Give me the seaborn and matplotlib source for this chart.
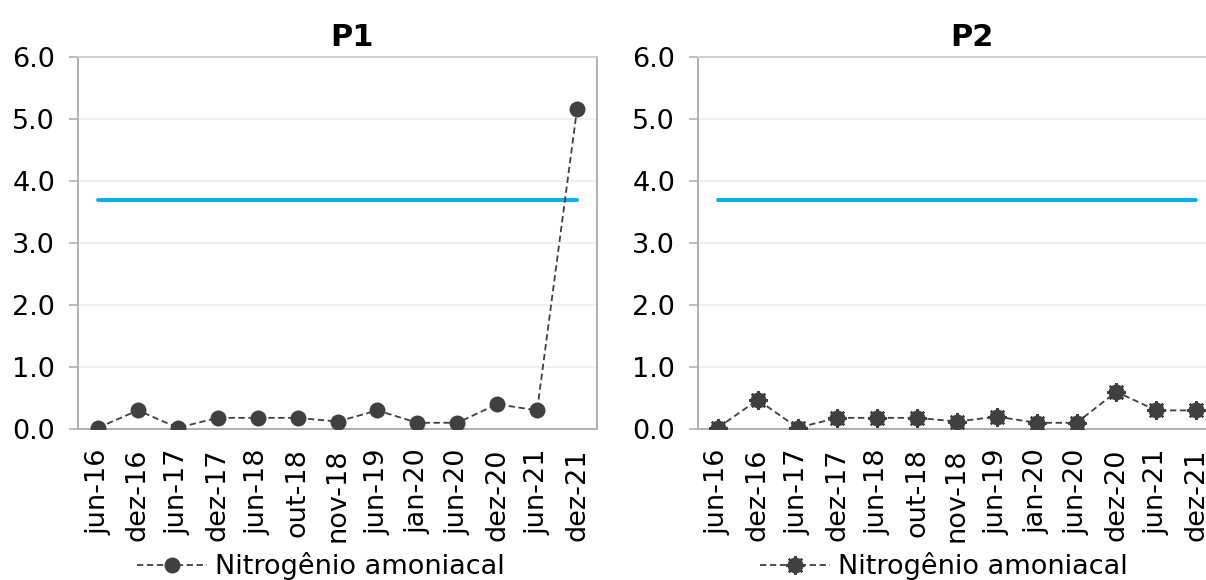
import matplotlib
matplotlib.use('Agg')
import matplotlib.pyplot as plt
import matplotlib.lines as mlines
import seaborn as sns
import numpy as np
import pandas as pd

# data
categories = ["jun-16", "dez-16", "jun-17", "dez-17", "jun-18", "out-18", "nov-18",
              "jun-19", "jan-20", "jun-20", "dez-20", "jun-21", "dez-21"]
p1_values = [0.02, 0.30, 0.02, 0.18, 0.18, 0.18, 0.12, 0.30, 0.10, 0.10, 0.40, 0.30, 5.16]
p2_values = [0.02, 0.47, 0.02, 0.18, 0.18, 0.18, 0.12, 0.20, 0.10, 0.10, 0.60, 0.30, 0.30]
limit_value = 3.7
y_ticks = [0.0, 1.0, 2.0, 3.0, 4.0, 5.0, 6.0]
series_name = "Nitrogênio amoniacal"

sns.set_theme(style="white")
plt.rcParams['font.family'] = ['DejaVu Sans']
plt.rcParams['text.color'] = 'black'
plt.rcParams['xtick.labelcolor'] = 'black'
plt.rcParams['ytick.labelcolor'] = 'black'

FONT = 19.5
DARK = "#404040"
BLUE = "#00B0F0"
SPINE = "#B0B0B0"
GRID = "#EDEDED"
W, H = 1206, 580

fig = plt.figure(figsize=(W / 100, H / 100), dpi=100)


def draw_panel(ax, values, title, legend_x, dashed_marker=False):
    n = len(categories)
    df = pd.DataFrame({"pos": np.arange(n), "valor": values, "limite": [limit_value] * n})

    sns.lineplot(data=df, x="pos", y="limite", color=BLUE, lw=2.8, ax=ax, zorder=3)
    if dashed_marker:
        # Excel draws the marker border dashed -> slightly notched circles
        ax.plot(df["pos"], df["valor"], ls="none", marker=(8, 2, 0), ms=13.5,
                mew=1.6, color=DARK, zorder=4)
    sns.lineplot(data=df, x="pos", y="valor", color=DARK, lw=1.3,
                 linestyle=(0, (3.5, 2)), marker="o", markersize=11.5,
                 markeredgewidth=0, markerfacecolor=DARK, ax=ax, zorder=5)

    ax.set_xlim(-0.5, n - 0.5)
    ax.set_ylim(0, 6)
    ax.set_yticks(y_ticks)
    ax.set_yticklabels([f"{t:.1f}" for t in y_ticks], fontsize=FONT)
    ax.set_xticks(np.arange(n))
    ax.set_xticklabels(categories, rotation=90, fontsize=FONT, va="top", ha="center")
    ax.set_xticks(np.arange(n + 1) - 0.5, minor=True)
    ax.tick_params(axis="x", which="major", length=0, pad=14)
    ax.tick_params(axis="x", which="minor", length=6, width=1.2, color=SPINE, direction="out")
    ax.tick_params(axis="y", which="major", length=6.5, width=1.2, color=SPINE,
                   direction="out", pad=10, left=True)
    ax.set_xlabel("")
    ax.set_ylabel("")

    ax.grid(axis="y", color=GRID, lw=1.2, zorder=0)
    ax.grid(axis="x", visible=False)
    for spine in ax.spines.values():
        spine.set_visible(True)
        spine.set_color(SPINE)
        spine.set_linewidth(1.4)
    ax.spines["top"].set_color("#CFCFCF")

    ax.set_title(title, fontsize=22, fontweight="bold", x=0.528, y=1.0, pad=8)

    handle = mlines.Line2D([], [], color=DARK, lw=1.3, linestyle=(0, (3.5, 2)),
                           marker="o", markersize=11.5, markeredgewidth=0)
    if dashed_marker:
        star = mlines.Line2D([], [], color=DARK, ls="none", marker=(8, 2, 0),
                             markersize=13.5, mew=1.6)
        handle = (star, handle)
    ax.legend(handles=[handle], labels=[series_name], loc="center",
              bbox_to_anchor=(legend_x, 1 - 566 / H), bbox_transform=fig.transFigure,
              frameon=False, fontsize=FONT, handlelength=2.6, handletextpad=0.3,
              borderpad=0)


ax1 = fig.add_axes([78 / W, 1 - 429 / H, 519 / W, 372 / H])
ax2 = fig.add_axes([698 / W, 1 - 429 / H, 518 / W, 372 / H])

draw_panel(ax1, p1_values, "P1", 321 / W)
draw_panel(ax2, p2_values, "P2", 944 / W, dashed_marker=True)

fig.savefig("out.png", dpi=100)
plt.close(fig)
